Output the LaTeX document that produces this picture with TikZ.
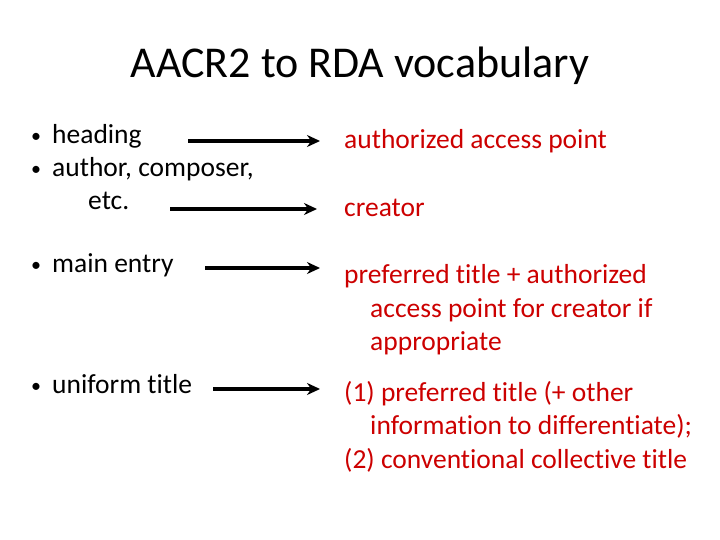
\documentclass[tikz,border=0pt]{standalone}
\usepackage{fontspec}
\setmainfont[Ligatures=NoCommon]{Carlito}
\usetikzlibrary{arrows.meta}
\definecolor{rdared}{RGB}{204,0,0}
\begin{document}
\begin{tikzpicture}[x=1pt,y=-1pt,
  txt/.style={anchor=base west,inner sep=0pt,font=\fontsize{27.5}{32}\selectfont},
  bul/.style={anchor=base west,inner sep=0pt,font=\fontsize{20}{24}\selectfont},
  red/.style={txt,text=rdared},
  arr/.style={line width=3.5pt,-{Stealth[length=13pt,width=12pt]}}]
\useasboundingbox (0,0) rectangle (720,540);
\node[anchor=base,inner sep=0pt,font=\fontsize{44}{50}\selectfont] (title) at (360,78) {AACR2 to RDA vocabulary};
\node[bul] (b1) at (31,143) {•};
\node[txt] (l1) at (52,144) {heading};
\node[bul] (b2) at (31,176) {•};
\node[txt] (l2) at (52,177) {author, composer,};
\node[txt] (l2b) at (88,210) {etc.};
\node[bul] (b3) at (31,271) {•};
\node[txt] (l3) at (52,272) {main entry};
\node[bul] (b4) at (31,392) {•};
\node[txt] (l4) at (52,393) {uniform title};
\node[red] (r1) at (344,149) {authorized access point};
\node[red] (r2) at (344,217) {creator};
\node[red] (r3) at (344,283) {preferred title + authorized};
\node[red] (r3b) at (370,317) {access point for creator if};
\node[red] (r3c) at (370,350) {appropriate};
\node[red] (r4) at (344,401) {(1) preferred title (+ other};
\node[red] (r4b) at (370,434) {information to differentiate);};
\node[red] (r4c) at (344,468) {(2) conventional collective title};
\coordinate (a1s) at (188,141); \coordinate (a1e) at (320,141);
\coordinate (a2s) at (170,209); \coordinate (a2e) at (317,209);
\coordinate (a3s) at (205,268); \coordinate (a3e) at (320,268);
\coordinate (a4s) at (213,389); \coordinate (a4e) at (320,389);
\draw[arr] (a1s) -- (a1e);
\draw[arr] (a2s) -- (a2e);
\draw[arr] (a3s) -- (a3e);
\draw[arr] (a4s) -- (a4e);
\end{tikzpicture}
\end{document}
